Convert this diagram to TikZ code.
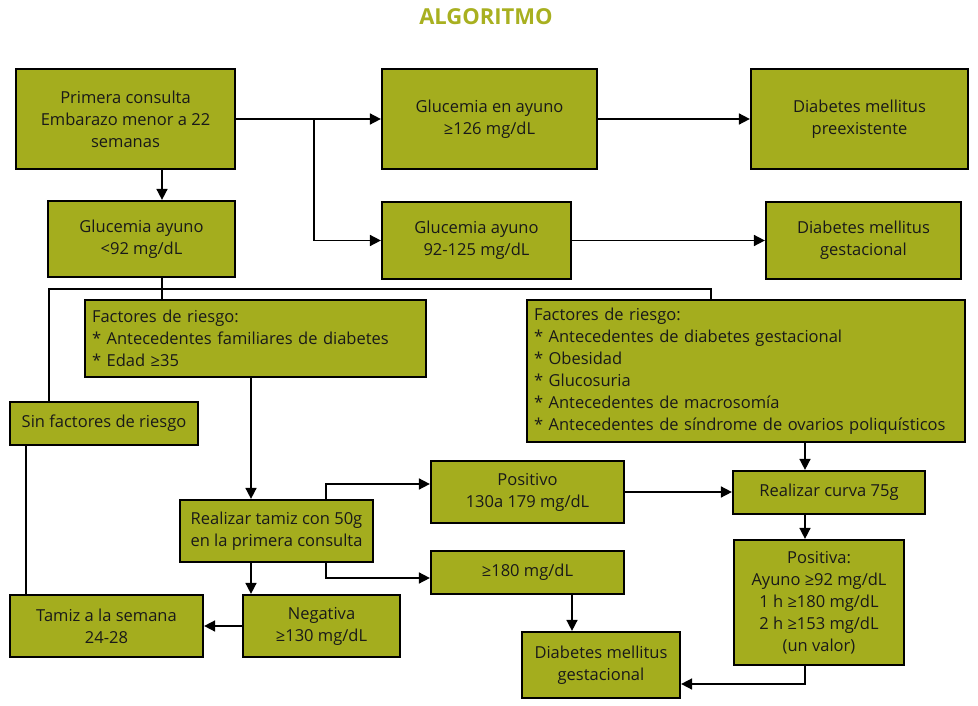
\documentclass[tikz,border=0pt]{standalone}
\usepackage{fontspec}
\setmainfont{Open Sans}
\newfontfamily\titlefont{Open Sans}
\usetikzlibrary{arrows.meta}
\definecolor{olive}{HTML}{A4AD1E}
\definecolor{titleolive}{HTML}{A8B020}
\begin{document}
\begin{tikzpicture}[x=1pt,y=-1pt,
  box/.style={draw=black, line width=2.2pt, fill=olive, inner sep=0pt, align=center,
    font=\fontsize{16.5}{22}\selectfont, text=black!90},
  lbox/.style={box, align=left},
  conn/.style={line width=1.6pt, draw=black},
  arr/.style={conn, -{Triangle[length=11pt,width=11pt]}}]
\useasboundingbox (0,0) rectangle (978,706);
\node[font=\titlefont\bfseries\fontsize{22}{24}\selectfont, text=titleolive] (title) at (486,17) {ALGORITMO};

\node[box, minimum width=219pt, minimum height=100pt] (pc) at (125.5,119) {Primera consulta\\Embarazo menor a 22\\semanas};
\node[box, minimum width=215pt, minimum height=100pt] (g126) at (489.5,119) {Glucemia en ayuno\\≥126 mg/dL};
\node[box, minimum width=217pt, minimum height=100pt] (dmp) at (859.5,119) {Diabetes mellitus\\preexistente};
\node[box, minimum width=187pt, minimum height=76pt] (g92) at (141.5,239) {Glucemia ayuno\\<92 mg/dL};
\node[box, minimum width=189pt, minimum height=77pt] (g125) at (476.5,240.5) {Glucemia ayuno\\92-125 mg/dL};
\node[box, minimum width=195pt, minimum height=77pt] (dmg1) at (863.5,240.5) {Diabetes mellitus\\gestacional};
\node[lbox, text width=327pt, minimum height=77pt, inner xsep=7pt] (frl) at (255.5,338.5) {Factores de riesgo:\\{}* Antecedentes familiares de diabetes\\{}* Edad ≥35};
\node[lbox, text width=424pt, minimum height=142pt, inner xsep=7pt] (frr) at (746,371) {Factores de riesgo:\\{}* Antecedentes de diabetes gestacional\\{}* Obesidad\\{}* Glucosuria\\{}* Antecedentes de macrosomía\\{}* Antecedentes de síndrome de ovarios poliquísticos};
\node[box, minimum width=188pt, minimum height=43pt] (sin) at (104,423.5) {Sin factores de riesgo};
\node[box, minimum width=193pt, minimum height=62pt] (tamiz) at (276.5,531) {Realizar tamiz con 50g\\en la primera consulta};
\node[box, minimum width=193pt, minimum height=62pt] (semana) at (106.5,626) {Tamiz a la semana\\24-28};
\node[box, minimum width=157pt, minimum height=62pt] (neg) at (321.5,626) {Negativa\\≥130 mg/dL};
\node[box, minimum width=193pt, minimum height=62pt] (pos) at (527.5,492) {Positivo\\130a 179 mg/dL};
\node[box, minimum width=193pt, minimum height=43pt] (g180) at (527.5,572.5) {≥180 mg/dL};
\node[box, minimum width=192pt, minimum height=43pt] (curva) at (829,492.5) {Realizar curva 75g};
\node[box, minimum width=170pt, minimum height=125pt] (posa) at (819,602.5) {Positiva:\\Ayuno ≥92 mg/dL\\1 h ≥180 mg/dL\\2 h ≥153 mg/dL\\(un valor)};
\node[box, minimum width=158pt, minimum height=66pt] (dmg2) at (601,665) {Diabetes mellitus\\gestacional};

\coordinate (j1) at (314,119);
\coordinate (x162) at (162,0);
\coordinate (hL) at (49,289);
\coordinate (hR) at (711,289);
\coordinate (x251) at (251,0);
\coordinate (x26) at (26,0);
\coordinate (t1) at (326,484);
\coordinate (t2) at (326,578);
\coordinate (x805) at (805,0);
\coordinate (x572) at (572,0);
\coordinate (t3) at (805,684);

\draw[arr] (pc.east) -- (g126.west);
\draw[arr] (j1) |- (g125.west);
\draw[arr] (g126.east) -- (dmp.west);
\draw[arr] (g125.east) -- (dmg1.west);
\draw[arr] (pc.south -| x162) -- (g92.north -| x162);
\draw[conn] (g92.south -| x162) -- (frl.north -| x162);
\draw[conn] (sin.north -| hL) -- (hL) -- (hR) -- (frr.north -| hR);
\draw[arr] (frl.south -| x251) -- (tamiz.north -| x251);
\draw[arr] (tamiz.south -| x251) -- (neg.north -| x251);
\draw[conn] (sin.south -| x26) -- (semana.north -| x26);
\draw[arr] (tamiz.north -| t1) -- (t1) -- (t1 -| pos.west);
\draw[arr] (tamiz.south -| t2) -- (t2) -- (t2 -| g180.west);
\draw[arr] (neg.west) -- (semana.east);
\draw[arr] (pos.east) -- (pos.east -| curva.west);
\draw[arr] (frr.south -| x805) -- (curva.north -| x805);
\draw[arr] (curva.south -| x805) -- (posa.north -| x805);
\draw[arr] (g180.south -| x572) -- (dmg2.north -| x572);
\draw[arr] (posa.south -| t3) -- (t3) -- (t3 -| dmg2.east);
\end{tikzpicture}
\end{document}
